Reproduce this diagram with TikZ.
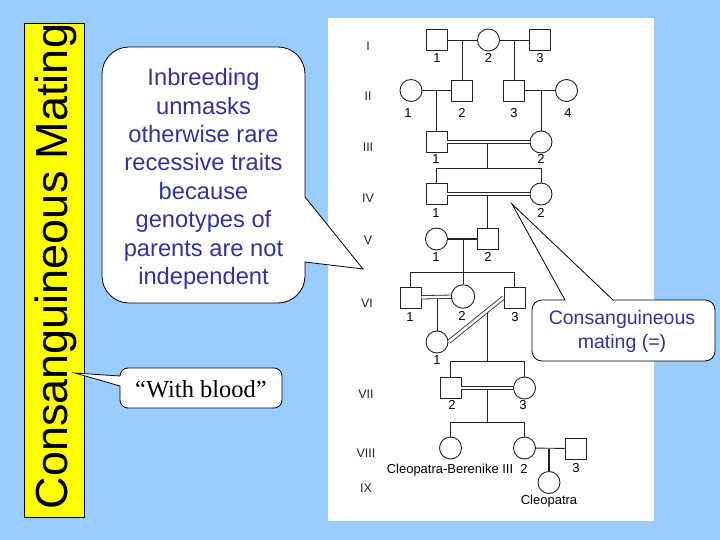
\documentclass[tikz,border=0pt]{standalone}
\usepackage{fontspec}
\setmainfont{Liberation Sans}
\newfontfamily\serifb{Liberation Serif}
\usetikzlibrary{calc}
\definecolor{bgblue}{RGB}{153,204,255}
\definecolor{txtblue}{RGB}{51,51,153}
\definecolor{pedline}{RGB}{35,35,35}
\definecolor{titleyellow}{RGB}{255,255,0}
\begin{document}
\begin{tikzpicture}[x=1pt,y=1pt,
  male/.style={draw=pedline, rectangle, minimum size=21pt, inner sep=0pt, line width=0.9pt, fill=white},
  female/.style={draw=pedline, circle, minimum size=22pt, inner sep=0pt, line width=0.9pt, fill=white},
  pl/.style={draw=pedline, line width=0.9pt},
  thickpl/.style={draw=pedline, line width=2.2pt},
  cons/.style={draw=pedline, line width=0.8pt, double=white, double distance=2.6pt},
  num/.style={font=\fontsize{13}{13}\selectfont, text=black, inner sep=0pt},
  gen/.style={font=\fontsize{12.5}{12.5}\selectfont, text=black!85, inner sep=0pt},
  bubble/.style={draw=black, line width=0.8pt, fill=white}
]
\useasboundingbox (0,0) rectangle (720,-540);
\fill[bgblue] (0,0) rectangle (720,-540);

% title strip
\draw[fill=titleyellow, draw=black, line width=0.8pt] (24.5,-23) rectangle (84.5,-517);
\node[rotate=90, inner sep=0pt, text=black, font=\fontsize{45}{45}\selectfont] (title) at (56,-266.5) {\scalebox{1.0}[1]{Consanguineous Mating}};

% pedigree sheet
\fill[white] (328,-18) rectangle (654,-521);

% generation numerals
\node[gen] (gI) at (368,-46) {I};
\node[gen] (gII) at (368,-96) {II};
\node[gen] (gIII) at (368,-147) {III};
\node[gen] (gIV) at (368,-198) {IV};
\node[gen] (gV) at (368,-240) {V};
\node[gen] (gVI) at (367,-303) {VI};
\node[gen] (gVII) at (366,-394) {VII};
\node[gen] (gVIII) at (366,-453) {VIII};
\node[gen] (gIX) at (366,-488) {IX};

% symbols
\node[male] (I1) at (437,-40) {};
\node[female] (I2) at (488.5,-40) {};
\node[male] (I3) at (539.5,-40) {};

\node[female] (II1) at (411,-90.5) {};
\node[male] (II2) at (462,-90.5) {};
\node[male] (II3) at (514,-90.5) {};
\node[female] (II4) at (566.5,-90.5) {};

\node[male] (III1) at (436.5,-142) {};
\node[female] (III2) at (541,-142) {};

\node[male] (IV1) at (436.5,-194) {};
\node[female] (IV2) at (541,-194) {};

\node[female] (V1) at (436.5,-239) {};
\node[male] (V2) at (487.5,-239) {};

\node[male] (VI1) at (410.5,-297.5) {};
\node[female, minimum size=23.5pt] (VI2) at (463,-296.5) {};
\node[male] (VI3) at (514.5,-297.5) {};
\node[female] (VIc) at (437,-342) {};

\node[male] (VII2) at (450.5,-388) {};
\node[female] (VII3) at (524.5,-388) {};

\node[female] (VIII1) at (450.5,-448) {};
\node[female] (VIII2) at (524.5,-448) {};
\node[male] (VIII3) at (575.5,-448.5) {};

\node[female] (IX1) at (549,-482.5) {};

% junction coordinates
\coordinate (jI12) at (462,-40);
\coordinate (jI23) at (514,-40);
\coordinate (jII12) at (436.5,-90.5);
\coordinate (jII34) at (541,-90.5);
\coordinate (jIII) at (487,-142);
\coordinate (bIII) at (487,-168);
\coordinate (jIV) at (487.5,-194);
\coordinate (jV) at (463,-239);
\coordinate (bV) at (463,-272);
\coordinate (jVI) at (437,-297.5);
\coordinate (dVI) at ($(VIc.east)!0.7!(VI3.west)$);
\coordinate (bVI) at (487,-361);
\coordinate (jVII) at (487,-388);
\coordinate (bVII) at (487,-422);
\coordinate (jVIII) at (549,-448.5);

% descent lines (drawn first)
\draw[pl] (jI12) -- (II2);
\draw[pl] (jI23) -- (II3);
\draw[pl] (jII12) -- (III1);
\draw[pl] (jII34) -- (III2);
\draw[pl] (jIII) -- (bIII);
\draw[pl] (IV1) -- (IV1 |- bIII) -- (IV2 |- bIII) -- (IV2);
\draw[pl] (jIV) -- (V2);
\draw[pl] (jV) -- (bV);
\draw[pl] (VI1) -- (VI1 |- bV) -- (VI3 |- bV) -- (VI3);
\draw[pl] (bV) -- (VI2);
\draw[pl] (jVI) -- (VIc);
\draw[pl] (dVI) -- (dVI |- bVI);
\draw[pl] (VII2) -- (VII2 |- bVI) -- (VII3 |- bVI) -- (VII3);
\draw[pl] (jVII) -- (bVII);
\draw[pl] (VIII1) -- (VIII1 |- bVII) -- (VIII2 |- bVII) -- (VIII2);
\draw[thickpl] (jVIII) -- (IX1);

% matings
\draw[pl] (I1) -- (I2);
\draw[pl] (I2) -- (I3);
\draw[pl] (II1) -- (II2);
\draw[pl] (II3) -- (II4);
\draw[cons] (III1) -- (III2);
\draw[cons] (IV1) -- (IV2);
\draw[thickpl] (V1) -- (V2);
\draw[cons] (VI1) -- (VI2);
\draw[cons] (VIc.east) -- (VI3.west);
\draw[cons] (VII2) -- (VII3);
\draw[pl] (VIII2) -- (VIII3);

% numbers
\node[num] (nI1) at (437,-58) {1};
\node[num] (nI2) at (488.5,-58) {2};
\node[num] (nI3) at (540,-58) {3};
\node[num] (nII1) at (408,-113) {1};
\node[num] (nII2) at (462,-113) {2};
\node[num] (nII3) at (514,-113) {3};
\node[num] (nII4) at (568,-113) {4};
\node[num] (nIII1) at (436,-159) {1};
\node[num] (nIII2) at (541,-159) {2};
\node[num] (nIV1) at (436,-213) {1};
\node[num] (nIV2) at (541,-213) {2};
\node[num] (nV1) at (436,-257) {1};
\node[num] (nV2) at (488,-257) {2};
\node[num] (nVI1) at (410,-317) {1};
\node[num] (nVI2) at (462,-316) {2};
\node[num] (nVI3) at (515,-317) {3};
\node[num] (nVIc) at (437,-360) {1};
\node[num] (nVII2) at (452,-405) {2};
\node[num] (nVII3) at (523,-405) {3};
\node[num] (nVIII1) at (450,-470) {Cleopatra-Berenike III};
\node[num] (nVIII2) at (524,-469) {2};
\node[num] (nVIII3) at (576,-468) {3};
\node[num] (nIX1) at (549,-501) {Cleopatra};

% bubble 1
\draw[bubble] (305,-197) -- (363,-269) -- (305,-262) -- (305,-276)
  arc[start angle=0, end angle=-90, radius=27pt] -- (129,-303)
  arc[start angle=270, end angle=180, radius=27pt] -- (102,-74)
  arc[start angle=180, end angle=90, radius=27pt] -- (278,-47)
  arc[start angle=90, end angle=0, radius=27pt] -- cycle;
\node[align=center, text=txtblue, inner sep=0pt, font=\fontsize{23.7}{28.4}\selectfont] (b1text) at (203.5,-179) {Inbreeding\\unmasks\\otherwise rare\\recessive traits\\because\\genotypes of\\parents are not\\independent};

% bubble 2
\draw[bubble] (120,-386) -- (75,-373) -- (120,-376)
  arc[start angle=180, end angle=90, radius=8pt] -- (274,-368)
  arc[start angle=90, end angle=0, radius=8pt] -- (282,-400)
  arc[start angle=0, end angle=-90, radius=8pt] -- (128,-408)
  arc[start angle=270, end angle=180, radius=8pt] -- cycle;
\node[text=black, inner sep=0pt, font=\serifb\fontsize{24.5}{24.5}\selectfont] (b2text) at (201,-389) {“With blood”};

% bubble 3
\draw[bubble] (565,-300) -- (512,-204) -- (613,-300) -- (705,-300)
  arc[start angle=90, end angle=0, radius=10pt] -- (715,-351)
  arc[start angle=0, end angle=-90, radius=10pt] -- (542,-361)
  arc[start angle=270, end angle=180, radius=10pt] -- (532,-310)
  arc[start angle=180, end angle=90, radius=10pt] -- cycle;
\node[align=center, text=txtblue, inner sep=0pt, font=\fontsize{19.5}{24}\selectfont] (b3text) at (622,-331) {Consanguineous\\mating (=)};
\end{tikzpicture}
\end{document}
